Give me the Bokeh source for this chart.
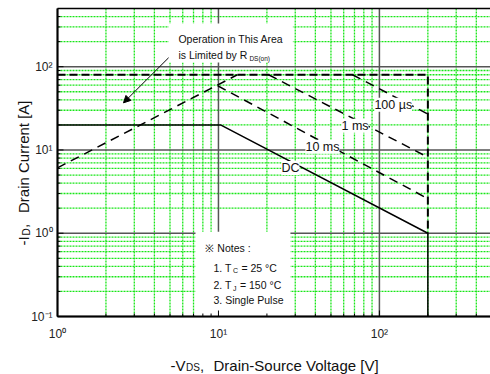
import math

from bokeh.embed import file_html
from bokeh.models import Arrow, Label, NormalHead, Range1d
from bokeh.plotting import figure
from bokeh.resources import INLINE

FONT = "Liberation Sans"
W, H = 490, 374

# Plot area on the page (pixels) and the data limits it spans
LEFT, RIGHT, TOP, BOTTOM = 57, 490, 8, 316
V_MIN, V_MAX = 1, 490
I_MIN, I_MAX = 0.1, 500

# Decade ticks and their labels
x_major = [1, 10, 100]
x_major_labels = ["10⁰", "10¹", "10²"]
y_major = [0.1, 1, 10, 100]
y_major_labels = ["10⁻¹", "10⁰", "10¹", "10²"]
x_minor = [2, 3, 4, 5, 6, 7, 8, 9, 20, 30, 40, 50, 60, 70, 80, 90, 200, 300, 400]
y_minor = [0.2, 0.3, 0.4, 0.5, 0.6, 0.7, 0.8, 0.9, 2, 3, 4, 5, 6, 7, 8, 9,
           20, 30, 40, 50, 60, 70, 80, 90, 200, 300, 400]

# Safe operating area boundaries: -V_DS [V] against -I_D [A]
rds_v = [1.0, 13.1]
rds_i = [6.1, 80.0]
pulse_limit_v = [1.0, 200.0, 200.0]
pulse_limit_i = [80.0, 80.0, 1.0]
t100us_v = [68.0, 200.0]
t100us_i = [80.0, 27.0]
t1ms_v = [20.5, 200.0]
t1ms_i = [80.0, 8.2]
t10ms_v = [9.9, 200.0]
t10ms_i = [59.0, 2.6]
dc_v = [1.0, 10.3, 200.0, 200.0]
dc_i = [20.0, 20.0, 1.0, 0.1]

# The frame fills the whole page; ranges are widened so that the data limits
# land on the plot-area edges and the margins hold ticks and titles.
dec_x = (RIGHT - LEFT) / math.log10(V_MAX / V_MIN)
dec_y = (BOTTOM - TOP) / math.log10(I_MAX / I_MIN)
x_range = Range1d(V_MIN * 10 ** (-LEFT / dec_x), V_MAX * 10 ** ((W - RIGHT) / dec_x))
y_range = Range1d(I_MIN * 10 ** (-(H - BOTTOM) / dec_y), I_MAX * 10 ** (TOP / dec_y))


def kx(px):
    """factor spanning px pixels horizontally on the log scale"""
    return 10 ** (px / dec_x)


def ky(px):
    return 10 ** (px / dec_y)


p = figure(width=W, height=H, x_axis_type="log", y_axis_type="log",
           x_range=x_range, y_range=y_range,
           x_axis_location=None, y_axis_location=None,
           output_backend="svg", toolbar_location=None, min_border=0)
p.grid.visible = False
p.outline_line_color = None
p.background_fill_color = "white"
p.border_fill_color = "white"

# grid: green dotted at minor decades, grey solid at decades
green = dict(line_color="#18e618", line_dash="2 1", line_width=1.3)
grey = dict(line_color="#555555", line_width=1.5)
p.segment(x0=x_minor, y0=I_MIN, x1=x_minor, y1=I_MAX, **green)
p.segment(x0=V_MIN, y0=y_minor, x1=V_MAX, y1=y_minor, **green)
p.segment(x0=x_major, y0=I_MIN, x1=x_major, y1=I_MAX, **grey)
p.segment(x0=V_MIN, y0=y_major, x1=V_MAX, y1=y_major, **grey)

# white panels behind the annotation texts
p.quad(left=[4.9, 7.2], right=[29, 28], bottom=[112, 0.1], top=[330, 1.04],
       fill_color="white", line_color=None)

# boundary curves
dash = dict(line_color="black", line_width=1.5, line_dash="9 6")
p.line(rds_v, rds_i, **dash)
p.line(pulse_limit_v, pulse_limit_i, line_color="black", line_width=2, line_dash="8 4")
p.line(t100us_v, t100us_i, **dash)
p.line(t1ms_v, t1ms_i, **dash)
p.line(t10ms_v, t10ms_i, **dash)
p.line(dc_v, dc_i, line_color="black", line_width=1.5)

# frame and inward ticks
p.segment(x0=[V_MIN, V_MIN], y0=[I_MIN, I_MIN], x1=[V_MAX, V_MIN], y1=[I_MIN, I_MAX],
          line_color="black", line_width=2)
p.segment(x0=V_MIN, y0=I_MAX, x1=V_MAX, y1=I_MAX, line_color="black", line_width=1.5)
tick = dict(line_color="black", line_width=1)
p.segment(x0=x_major, y0=I_MIN, x1=x_major, y1=I_MIN * ky(6), **tick)
p.segment(x0=x_minor, y0=I_MIN, x1=x_minor, y1=I_MIN * ky(3), **tick)
p.segment(x0=V_MIN, y0=y_major, x1=V_MIN * kx(6), y1=y_major, **tick)
p.segment(x0=V_MIN, y0=y_minor, x1=V_MIN * kx(3), y1=y_minor, **tick)


def text(x, y, s, size="12.5px", bg=None, dx=0, dy=0, angle=0.0,
         align="left", baseline="alphabetic", color="#111111"):
    lab = Label(x=x, y=y, text=s, text_font=FONT, text_font_size=size,
                text_color=color, text_align=align, text_baseline=baseline,
                x_offset=dx, y_offset=dy, angle=angle)
    if bg:
        lab.background_fill_color = bg
    p.add_layout(lab)


# tick labels
for v, s in zip(x_major, x_major_labels):
    text(v, I_MIN, s, size="12px", dy=-10.5, align="center", baseline="top",
         color="#222222")
for i, s in zip(y_major, y_major_labels):
    text(V_MIN, i, s, size="12px", dx=-5, align="right", baseline="middle",
         color="#222222")

# curve labels
text(93.1, 34.9, "100 µs", bg="white")
text(58.1, 19.5, "1 ms", bg="white")
text(34.7, 10.9, "10 ms", bg="white")
text(24.6, 6.07, "DC", bg="white")

# R_DS(on) limited region note
text(5.64, 214, "Operation in This Area", size="10.5px")
text(5.64, 140, "is Limited by R", size="10.5px")
text(5.64, 140, "DS(on)", size="6.5px", dx=71, dy=-4)
p.add_layout(Arrow(end=NormalHead(size=7, fill_color="black", line_color="black"),
                   x_start=4.9, y_start=128, x_end=2.57, y_end=36.8,
                   line_color="black", line_width=1))

# test conditions
text(8.3, 0.66, "※ Notes :", size="10.5px")
text(9.31, 0.387, "1. T", size="10.5px")
text(9.31, 0.387, "C", size="7px", dx=19.5, dy=-3)
text(9.31, 0.387, "= 25 °C", size="10.5px", dx=28)
text(9.31, 0.236, "2. T", size="10.5px")
text(9.31, 0.236, "J", size="7px", dx=19.5, dy=-3)
text(9.31, 0.236, "= 150 °C", size="10.5px", dx=26.5)
text(9.31, 0.156, "3. Single Pulse", size="10.5px")

# axis titles, placed from the lower-left corner of the plot area
text(V_MIN, I_MIN, "-V", size="15px", dx=113, dy=-49)
text(V_MIN, I_MIN, "DS", size="10px", dx=128.5, dy=-51)
text(V_MIN, I_MIN, ",", size="15px", dx=142.5, dy=-49)
text(V_MIN, I_MIN, "Drain-Source Voltage [V]", size="15px", dx=156, dy=-49)

text(V_MIN, I_MIN, "-I", size="15px", dx=-34.5, dy=71, angle=math.pi / 2)
text(V_MIN, I_MIN, "D", size="10px", dx=-31.5, dy=81, angle=math.pi / 2)
text(V_MIN, I_MIN, ",", size="15px", dx=-34.5, dy=88.5, angle=math.pi / 2)
text(V_MIN, I_MIN, "Drain Current [A]", size="15px", dx=-34.5, dy=103.5,
     angle=math.pi / 2)

open("out.html", "w").write(file_html(p, INLINE))
